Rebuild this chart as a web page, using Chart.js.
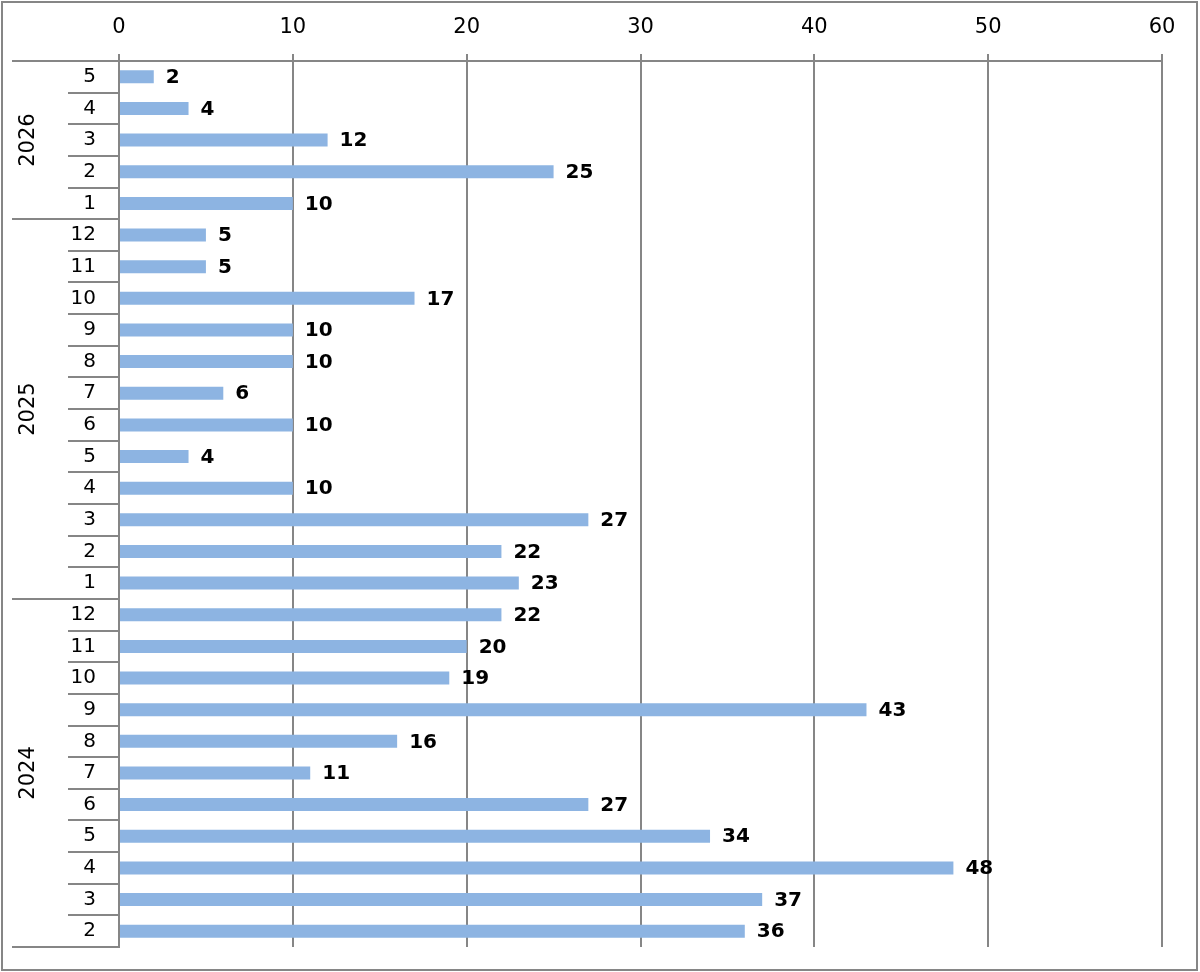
<!DOCTYPE html>
<html>
<head>
<meta charset="utf-8">
<script src="https://cdn.jsdelivr.net/npm/chart.js@4"></script>
<style>
  html, body { margin: 0; padding: 0; background: #fff; }
  canvas { display: block; }
</style>
</head>
<body>
<canvas id="chart" width="1200" height="972"></canvas>
<script>
// Data, chronological (bottom of chart is the oldest month)
const years = ['2024', '2025', '2026'];
const months2024 = ['2', '3', '4', '5', '6', '7', '8', '9', '10', '11', '12'];
const values2024 = [36, 37, 48, 34, 27, 11, 16, 43, 19, 20, 22];
const months2025 = ['1', '2', '3', '4', '5', '6', '7', '8', '9', '10', '11', '12'];
const values2025 = [23, 22, 27, 10, 4, 10, 6, 10, 10, 17, 5, 5];
const months2026 = ['1', '2', '3', '4', '5'];
const values2026 = [10, 25, 12, 4, 2];
const xMin = 0, xMax = 60, xStep = 10;

const monthGroups = [months2024, months2025, months2026];
const labels = [].concat(months2024, months2025, months2026);
const values = [].concat(values2024, values2025, values2026);
// which year group each category belongs to
const groupOf = [];
monthGroups.forEach((g, gi) => g.forEach(() => groupOf.push(gi)));

const GRID = '#868686';
const FONT = '"DejaVu Sans", Verdana, sans-serif';

// Outer frame
const framePlugin = {
    id: 'frame',
    beforeDraw(chart) {
        const ctx = chart.ctx;
        ctx.save();
        ctx.fillStyle = '#fff';
        ctx.fillRect(0, 0, chart.width, chart.height);
        ctx.strokeStyle = GRID;
        ctx.lineWidth = 2;
        ctx.strokeRect(2, 2, 1195, 968);
        ctx.restore();
    }
};

// Two-level category axis: separators + rotated year labels
const yearAxisPlugin = {
    id: 'yearAxis',
    afterDraw(chart) {
        const ctx = chart.ctx;
        const ys = chart.scales.y;
        const right = chart.chartArea.left;
        const band = Math.abs(ys.getPixelForValue(1) - ys.getPixelForValue(0));
        ctx.save();
        ctx.strokeStyle = GRID;
        ctx.lineWidth = 2;
        for (let i = 0; i < labels.length; i++) {
            const c = ys.getPixelForValue(i);
            const bottom = Math.round(c + band / 2);
            const startX = (i === 0 || groupOf[i] !== groupOf[i - 1]) ? 12 : 68;
            ctx.beginPath();
            ctx.moveTo(startX, bottom);
            ctx.lineTo(right, bottom);
            ctx.stroke();
        }
        // top edge of last category
        const topY = Math.round(ys.getPixelForValue(labels.length - 1) - band / 2);
        ctx.beginPath();
        ctx.moveTo(12, topY);
        ctx.lineTo(right, topY);
        ctx.stroke();

        // year labels
        ctx.fillStyle = '#000';
        ctx.font = '21px ' + FONT;
        ctx.textAlign = 'center';
        ctx.textBaseline = 'middle';
        let start = 0;
        monthGroups.forEach((g, gi) => {
            const first = ys.getPixelForValue(start);
            const last = ys.getPixelForValue(start + g.length - 1);
            const cy = (first + last) / 2;
            ctx.save();
            ctx.translate(29, cy);
            ctx.rotate(-Math.PI / 2);
            ctx.fillText(years[gi], 0, 0);
            ctx.restore();
            start += g.length;
        });
        ctx.restore();
    }
};

// Value labels right of each bar
const valueLabelPlugin = {
    id: 'valueLabels',
    afterDatasetsDraw(chart) {
        const ctx = chart.ctx;
        const meta = chart.getDatasetMeta(0);
        ctx.save();
        ctx.fillStyle = '#000';
        ctx.font = 'bold 20px ' + FONT;
        ctx.textAlign = 'left';
        ctx.textBaseline = 'middle';
        meta.data.forEach((bar, i) => {
            ctx.fillText(values[i], bar.x + 12, bar.y + 1);
        });
        ctx.restore();
    }
};

new Chart(document.getElementById('chart'), {
    type: 'bar',
    data: {
        labels,
        datasets: [{
            data: values,
            backgroundColor: '#8DB4E2',
            borderWidth: 0,
            barPercentage: 0.41,
            categoryPercentage: 1
        }]
    },
    options: {
        indexAxis: 'y',
        responsive: false,
        animation: false,
        layout: { padding: { left: 0, top: 0, right: 38, bottom: 25 } },
        plugins: {
            legend: { display: false },
            tooltip: { enabled: false }
        },
        scales: {
            x: {
                position: 'top',
                min: xMin,
                max: xMax,
                ticks: {
                    stepSize: xStep,
                    color: '#000',
                    font: { family: FONT, size: 21 },
                    padding: 14
                },
                grid: {
                    color: GRID,
                    lineWidth: 2,
                    tickLength: 7
                },
                border: { color: GRID, width: 2 },
                afterFit(scale) { scale.height = 61; }
            },
            y: {
                reverse: true,
                offset: true,
                ticks: {
                    color: '#000',
                    font: { family: FONT, size: 20 },
                    padding: 15
                },
                grid: { display: false },
                border: { color: GRID, width: 2 },
                afterFit(scale) {
                    scale.width = 119;
                    scale.paddingTop = 0;
                    scale.paddingBottom = 0;
                }
            }
        }
    },
    plugins: [framePlugin, yearAxisPlugin, valueLabelPlugin]
});
</script>
</body>
</html>
